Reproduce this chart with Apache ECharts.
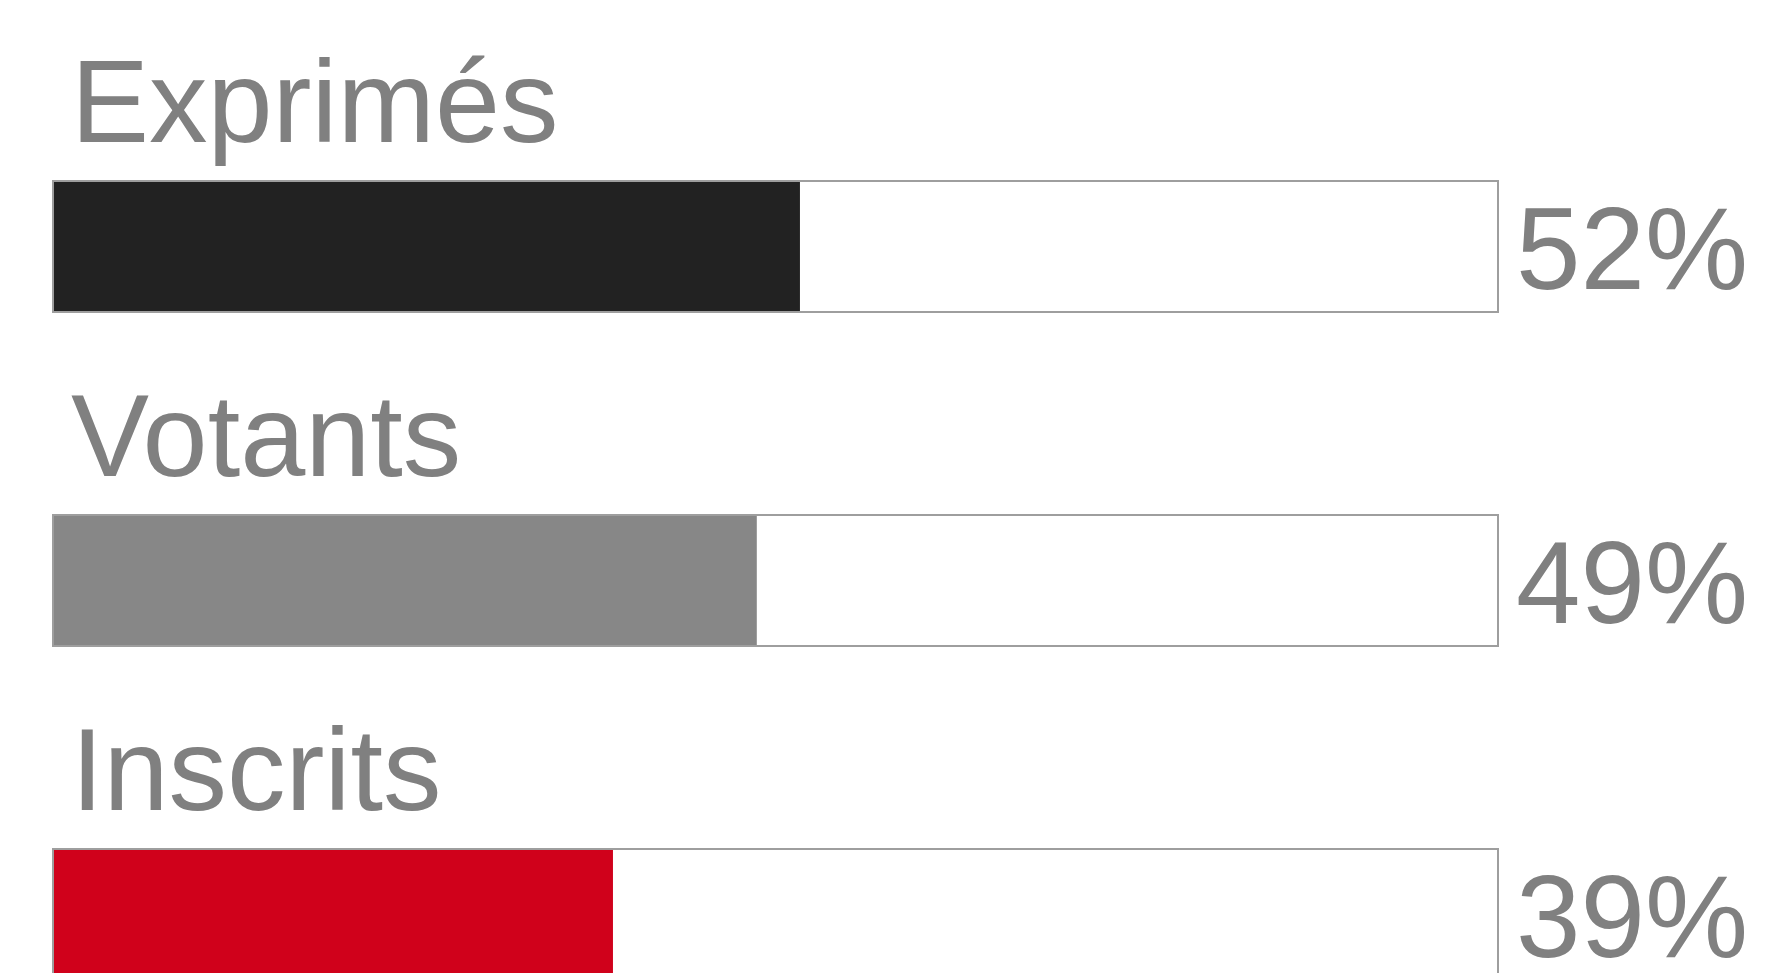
<!DOCTYPE html>
<html>
<head>
<meta charset="utf-8">
<title>Participation</title>
<script src="https://cdn.jsdelivr.net/npm/echarts@6/dist/echarts.min.js"></script>
<style>
  html, body { margin: 0; padding: 0; background: #ffffff; }
  #chart { width: 1767px; height: 973px; }
</style>
</head>
<body>
<div id="chart"></div>
<script>
// Turnout figures, one horizontal gauge per row
const categories = ['Exprimés', 'Votants', 'Inscrits'];
const values = [52, 49, 39];
const fillColors = ['#222222', '#878787', '#d0011b'];
// Full width of each gauge frame on the value scale
const SCALE_MAX = 100.6;

const TEXT_COLOR = '#808080';
const FONT = '"Liberation Sans", Arial, Helvetica, sans-serif';

const chart = echarts.init(document.getElementById('chart'), null, { renderer: 'canvas' });

chart.setOption({
  animation: false,
  backgroundColor: '#ffffff',
  // the last row runs past the bottom edge of the page
  grid: {
    left: 52,
    right: 268,
    top: 79.5,
    height: 1002,
    containLabel: false,
    outerBoundsMode: 'none'
  },
  xAxis: {
    type: 'value',
    min: 0,
    max: SCALE_MAX,
    show: false
  },
  yAxis: {
    type: 'category',
    data: categories,
    inverse: true,
    show: false
  },
  series: [
    {
      // coloured fill of each gauge, with the row name above it
      name: 'fill',
      type: 'bar',
      barWidth: 133,
      z: 2,
      silent: true,
      data: values.map((v, i) => ({ value: v, itemStyle: { color: fillColors[i] } })),
      label: {
        show: true,
        formatter: '{b}',
        position: [19, -70],
        align: 'left',
        verticalAlign: 'middle',
        fontFamily: FONT,
        fontSize: 117,
        color: TEXT_COLOR
      }
    },
    {
      // grey frame of each gauge, with the percentage to its right
      name: 'frame',
      type: 'bar',
      barWidth: 133,
      barGap: '-100%',
      z: 3,
      silent: true,
      data: categories.map(() => SCALE_MAX),
      itemStyle: {
        color: 'rgba(0,0,0,0)',
        borderColor: '#9e9e9e',
        borderWidth: 2
      },
      label: {
        show: true,
        position: 'right',
        distance: 17,
        offset: [0, 11],
        formatter: (p) => values[p.dataIndex] + '%',
        fontFamily: FONT,
        fontSize: 116,
        color: TEXT_COLOR
      }
    }
  ]
});
</script>
</body>
</html>
